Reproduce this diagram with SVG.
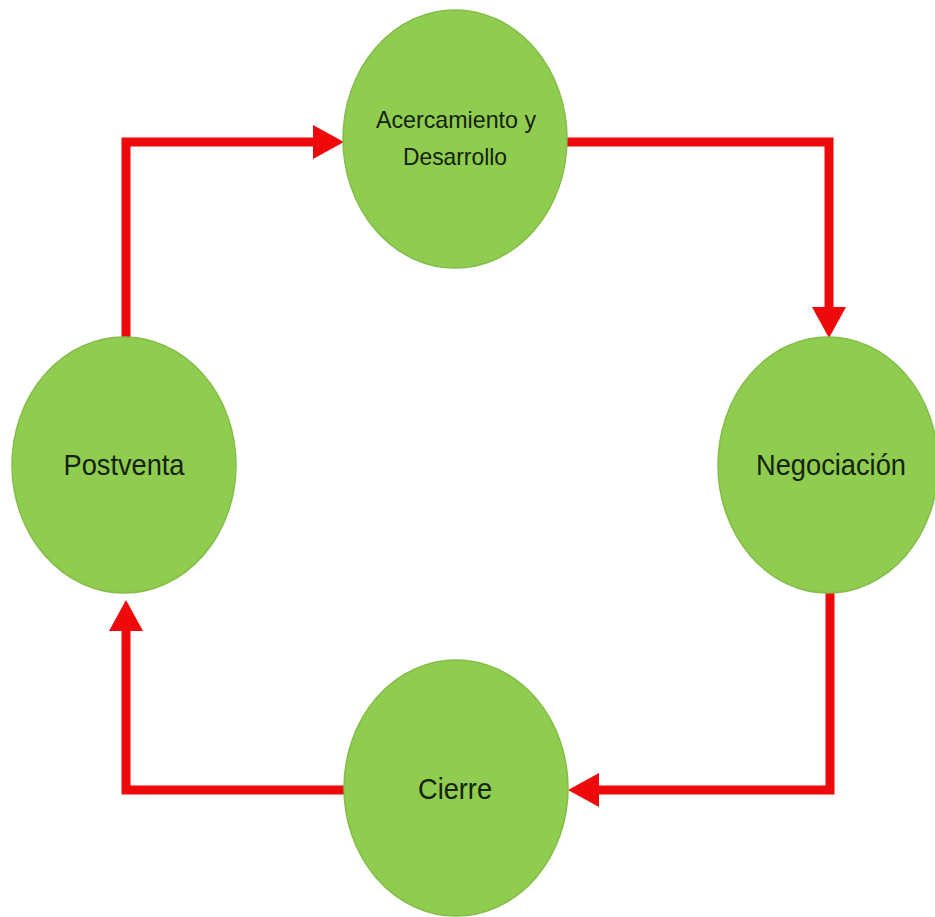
<svg xmlns="http://www.w3.org/2000/svg" width="935" height="917" viewBox="0 0 935 917">
<style>
.node ellipse{fill:#8fcc50;stroke:#84bd48;stroke-width:1.5}
.node text{font-family:"Liberation Sans",Arial,sans-serif;fill:#14230c;text-anchor:middle}
.big{font-size:30px}
.small{font-size:24px}
.conn path{fill:none;stroke:#ee0a0a;stroke-width:9;stroke-linejoin:miter;marker-end:url(#ah)}
</style>
<defs>
<marker id="ah" markerUnits="userSpaceOnUse" markerWidth="32" markerHeight="36" refX="0" refY="17" orient="auto" viewBox="0 0 32 34">
<path d="M0,0 L31,17 L0,34 z" fill="#ee0a0a"/>
</marker>
</defs>
<rect width="935" height="917" fill="#ffffff"/>
<g id="connectors" class="conn">
<path d="M126,337 V142 H313"/>
<path d="M567,142 H829 V307"/>
<path d="M830,593 V790 H599"/>
<path d="M344,790 H126 V631"/>
</g>
<g id="acercamiento" class="node">
<ellipse cx="455" cy="139" rx="112" ry="129"/>
<text class="small" x="456" y="128" textLength="160" lengthAdjust="spacingAndGlyphs">Acercamiento y</text>
<text class="small" x="455" y="165" textLength="104" lengthAdjust="spacingAndGlyphs">Desarrollo</text>
</g>
<g id="negociacion" class="node">
<ellipse cx="828" cy="465" rx="110" ry="128"/>
<text class="big" x="831" y="475" textLength="150" lengthAdjust="spacingAndGlyphs">Negociación</text>
</g>
<g id="cierre" class="node">
<ellipse cx="456" cy="788" rx="112" ry="128"/>
<text class="big" x="455" y="799" textLength="74" lengthAdjust="spacingAndGlyphs">Cierre</text>
</g>
<g id="postventa" class="node">
<ellipse cx="124" cy="465" rx="112" ry="128"/>
<text class="big" x="124" y="475" textLength="121" lengthAdjust="spacingAndGlyphs">Postventa</text>
</g>
</svg>
